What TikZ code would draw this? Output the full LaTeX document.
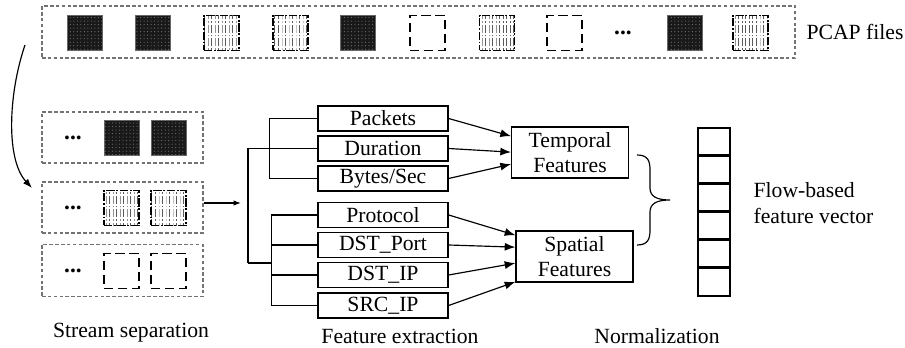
\documentclass[tikz,border=0pt]{standalone}
\usepackage{fontspec}
\setmainfont{Liberation Serif}
\usetikzlibrary{arrows.meta,patterns}

\tikzset{
  txt/.style={font=\fontsize{18.5}{21}\selectfont, inner sep=0pt},
  featbox/.style={draw, line width=1.1pt, minimum width=39mm, minimum height=7.5mm, inner sep=0pt, txt},
  groupbox/.style={draw, line width=1.1pt, minimum width=35mm, minimum height=15.3mm, align=center, inner sep=0pt, txt},
  dashbox/.style={draw=black!55, dash pattern=on 3pt off 2pt, line width=0.9pt, inner sep=0pt},
  darksq/.style={draw=black!60, line width=0.4pt, minimum size=10.5mm, inner sep=0pt,
    preaction={fill=black!90}, pattern=dots, pattern color=black!55},
  stripesq/.style={draw, line width=1.3pt, minimum size=10.5mm, inner sep=0pt,
    dash pattern=on 7pt off 1.5pt on 1.5pt off 1.5pt,
    preaction={fill=white}, pattern=vertical lines, pattern color=black!65},
  emptysq/.style={draw, line width=1.1pt, minimum size=10.5mm, inner sep=0pt, dash pattern=on 8pt off 4pt},
  dotsnode/.style={inner sep=0pt, font=\fontsize{20}{20}\selectfont\bfseries},
  cell/.style={draw, line width=1pt, minimum width=9.6mm, minimum height=8.4mm, inner sep=0pt},
  arr/.style={-{Latex[length=3.2mm,width=2.4mm]}, line width=1pt}
}

\begin{document}
\begin{tikzpicture}[x=0.3mm, y=-0.3mm, line width=1pt]

    \useasboundingbox (0,0) rectangle (905,348);

    % PCAP files row
    \node[dashbox, minimum width=225.9mm, minimum height=15.6mm] (pcap) at (418.5,32) {};
    \foreach \x/\t [count=\i] in {84.5/darksq, 152.5/darksq, 221.5/stripesq, 290.5/stripesq, 357.5/darksq,
        427.5/emptysq, 497/stripesq, 564.5/emptysq, 684.5/darksq, 750.5/stripesq}
      \node[\t] (pk\i) at (\x,33) {};
    \node[dotsnode] (pkdots) at (623,33) {...};
    \node[txt] (pcaplabel) at (855,32) {PCAP files};

    % Curved arrow to the streams
    \coordinate (cv0) at (25,45);
    \coordinate (cv1) at (32,188);
    \draw[-{Latex[length=2.8mm,width=2mm]}] (cv0) .. controls (8,95) and (6,160) .. (cv1);

    % Stream separation
    \node[dashbox, minimum width=48.3mm, minimum height=15.3mm] (s1) at (122.5,137.5) {};
    \node[dashbox, minimum width=48.3mm, minimum height=15.3mm] (s2) at (122.5,207.5) {};
    \node[dashbox, minimum width=48.3mm, minimum height=15.6mm] (s3) at (122.5,270.5) {};
    \node[dotsnode] (d1) at (73,138) {...};
    \node[dotsnode] (d2) at (73,208) {...};
    \node[dotsnode] (d3) at (73,271) {...};
    \node[darksq] (s1a) at (121.5,138) {};
    \node[darksq] (s1b) at (168.5,138) {};
    \node[stripesq] (s2a) at (121.5,208) {};
    \node[stripesq] (s2b) at (168.5,208) {};
    \node[emptysq] (s3a) at (121.5,271) {};
    \node[emptysq] (s3b) at (168.5,271) {};
    \node[txt] (sslabel) at (131,333) {Stream separation};

    % Arrow into the tree
    \coordinate (in) at (241,203);
    \draw[-{Latex[length=2.2mm,width=1.6mm]}] (s2.east |- in) -- (in);

    % Feature boxes
    \node[featbox] (pkt) at (383,118.5) {Packets};
    \node[featbox] (dur) at (383,148.5) {Duration};
    \node[featbox] (byt) at (383,178.5) {Bytes/Sec};
    \node[featbox] (pro) at (383,215) {Protocol};
    \node[featbox] (dpt) at (383,245) {DST\_Port};
    \node[featbox] (dip) at (383,275) {DST\_IP};
    \node[featbox] (sip) at (383,305.5) {SRC\_IP};
    \node[txt] (felabel) at (400,336) {Feature extraction};

    % Tree lines
    \coordinate (trtop) at (248,148.5);
    \coordinate (trbot) at (248,263);
    \coordinate (spbus) at (272,263);
    \draw (trtop) -- (trbot);                         % trunk
    \draw (trtop) -- (dur.west);                      % to Duration
    \draw (pkt.west) -- ++(-48,0) |- (byt.west);      % temporal branch
    \draw (pro.west) -- ++(-46,0) |- (sip.west);      % spatial branch
    \draw (dpt.west) -- ++(-46,0);
    \draw (dip.west) -- ++(-46,0);
    \draw (trbot) -- (spbus);

    % Grouped features
    \node[groupbox] (tmp) at (570,152.5) {Temporal\\Features};
    \node[groupbox, minimum width=35.1mm] (spa) at (574.5,256.5) {Spatial\\Features};

    \draw[arr] (pkt.east) -- ([yshift=4.9mm]tmp.west);
    \draw[arr] (dur.east) -- ([yshift=0.1mm]tmp.west);
    \draw[arr] (byt.east) -- ([yshift=-3.5mm]tmp.west);
    \draw[arr] (pro.east) -- ([yshift=6.4mm]spa.west);
    \draw[arr] (dpt.east) -- ([yshift=2.8mm]spa.west);
    \draw[arr] (dip.east) -- ([yshift=-2mm]spa.west);
    \draw[arr] (sip.east) -- ([yshift=-7.6mm]spa.west);

    % Brace
    \coordinate (brtop) at (637,155);
    \coordinate (brbot) at (637,245);
    \coordinate (brtip) at (670,200);
    \draw (brtop) .. controls (648,155) and (650,161) .. (650,170) -- (650,188)
       .. controls (650,196) and (656,200) .. (brtip)
       .. controls (656,200) and (650,204) .. (650,212) -- (650,230)
       .. controls (650,239) and (648,245) .. (brbot);

    % Feature vector
    \foreach \i in {0,...,5}
      \node[cell] (v\i) at (714,142+28*\i) {};
    \foreach \i in {1,...,5}
      \draw[line width=1.6pt] (v\i.north west) -- (v\i.north east);
    \node[txt, anchor=west, align=left, font=\fontsize{18.5}{22}\selectfont] (fvlabel) at (753,203) {Flow-based\\feature vector};
    \node[txt] (nmlabel) at (657,336) {Normalization};

\end{tikzpicture}
\end{document}
